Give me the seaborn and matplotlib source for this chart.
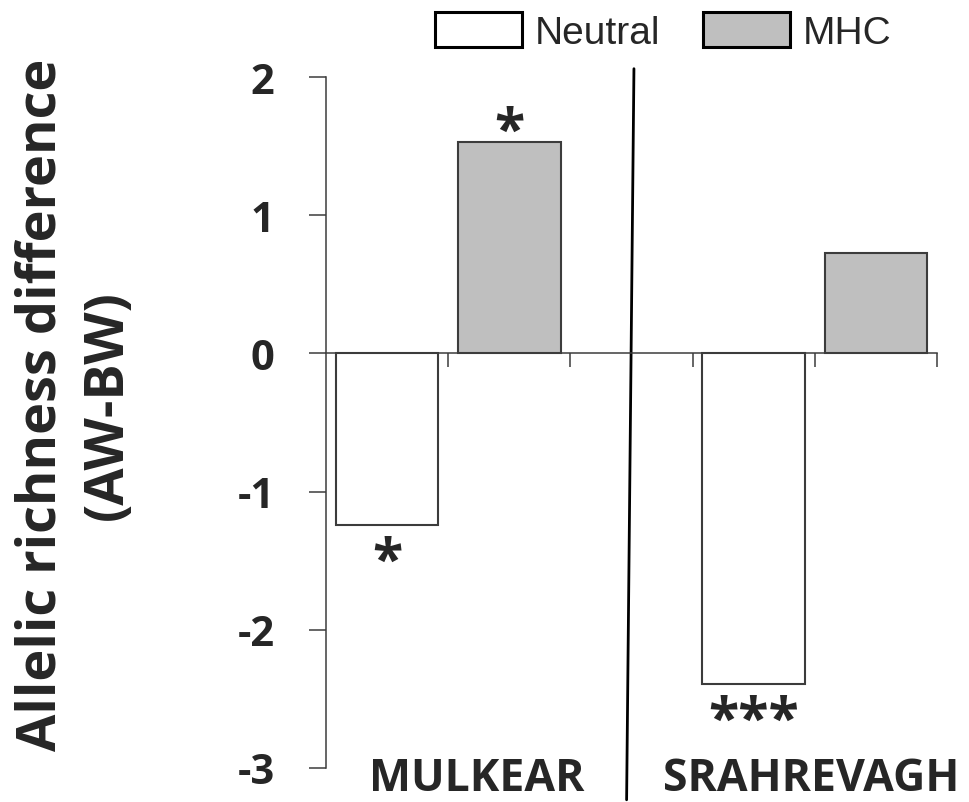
import matplotlib
matplotlib.use("Agg")
import matplotlib.pyplot as plt
from matplotlib.patches import Patch
import seaborn as sns
import pandas as pd

# ---- data ----
sites = ["MULKEAR", "SRAHREVAGH"]
markers = ["Neutral", "MHC"]
neutral_values = [-1.24, -2.39]
mhc_values = [1.53, 0.73]
significance_neutral = ["*", "***"]
significance_mhc = ["*", ""]
yticks = [-3, -2, -1, 0, 1, 2]
ylabel = "Allelic richness difference\n(AW-BW)"

# slot layout: site1-Neutral, site1-MHC, gap, site2-Neutral, site2-MHC
slot_order = ["MULKEAR Neutral", "MULKEAR MHC", "gap", "SRAHREVAGH Neutral", "SRAHREVAGH MHC"]
rows = []
for s, nv, mv in zip(sites, neutral_values, mhc_values):
    rows.append({"slot": f"{s} Neutral", "marker": "Neutral", "value": nv})
    rows.append({"slot": f"{s} MHC", "marker": "MHC", "value": mv})
df = pd.DataFrame(rows)

sns.set_style("white")
plt.rcParams["font.family"] = ["Open Sans", "DejaVu Sans"]

W, H = 969, 803
fig = plt.figure(figsize=(W / 100, H / 100), dpi=100)
ax = fig.add_axes([326 / W, 1 - 769 / H, 611 / W, 691 / H])

edge = "#3c3c3c"
palette = {"Neutral": "white", "MHC": "#bfbfbf"}
sns.barplot(data=df, x="slot", y="value", hue="marker", order=slot_order,
            hue_order=markers, palette=palette, dodge=False, width=0.84,
            edgecolor=edge, linewidth=1.5, legend=False, ax=ax)

ax.set_xlim(-0.5, 4.5)
ax.set_ylim(-3, 2)
ax.set_yticks(yticks)
ax.set_yticklabels([str(t) for t in yticks], fontsize=30, fontweight="bold")
ax.tick_params(axis="y", direction="out", length=12, width=1.1, color=edge, pad=25, left=True)
ax.set_xticks([0.5, 1.5, 2.5, 3.5, 4.5])
ax.set_xticklabels([])
ax.tick_params(axis="x", direction="out", length=10, width=1.1, color=edge, bottom=True)
ax.set_xlabel("")
ax.set_ylabel("")

for sp in ["top", "right"]:
    ax.spines[sp].set_visible(False)
ax.spines["bottom"].set_position(("data", 0))
for sp in ["left", "bottom"]:
    ax.spines[sp].set_color(edge)
    ax.spines[sp].set_linewidth(1.1)

# divider between sites
ax.plot([2.02, 1.96], [2.06, -3.23], color="black", lw=2.0, clip_on=False)

# site labels
site_x = [0.73, 3.47]
for x, s in zip(site_x, sites):
    ax.text(x, -3.075, s, ha="center", va="center", fontsize=32, fontweight="bold",
            clip_on=False)

# significance stars
neutral_pos = [0, 3]
mhc_pos = [1, 4]
for x, v, t in zip(neutral_pos, neutral_values, significance_neutral):
    if t:
        ax.text(x, v - 0.07, t, ha="center", va="top", fontsize=40, fontweight="bold")
for x, v, t in zip(mhc_pos, mhc_values, significance_mhc):
    if t:
        ax.text(x, v - 0.13, t, ha="center", va="bottom", fontsize=40, fontweight="bold")

# y label
fig.text(75 / W, 1 - 405 / H, ylabel, rotation=90, ha="center", va="center",
         fontsize=39, fontweight="bold", linespacing=1.3, multialignment="center")

# legend
handles = [Patch(facecolor=palette[m], edgecolor="black", linewidth=2.2, label=m) for m in markers]
fig.legend(handles=handles, loc="upper left", bbox_to_anchor=(435 / W, 1 - 13 / H),
           ncol=2, frameon=False, prop={"family": "Liberation Sans", "size": 28},
           borderpad=0, borderaxespad=0, handlelength=2.24, handleheight=1.0,
           handletextpad=0.33, columnspacing=1.1)

fig.savefig("out.png", dpi=100)
